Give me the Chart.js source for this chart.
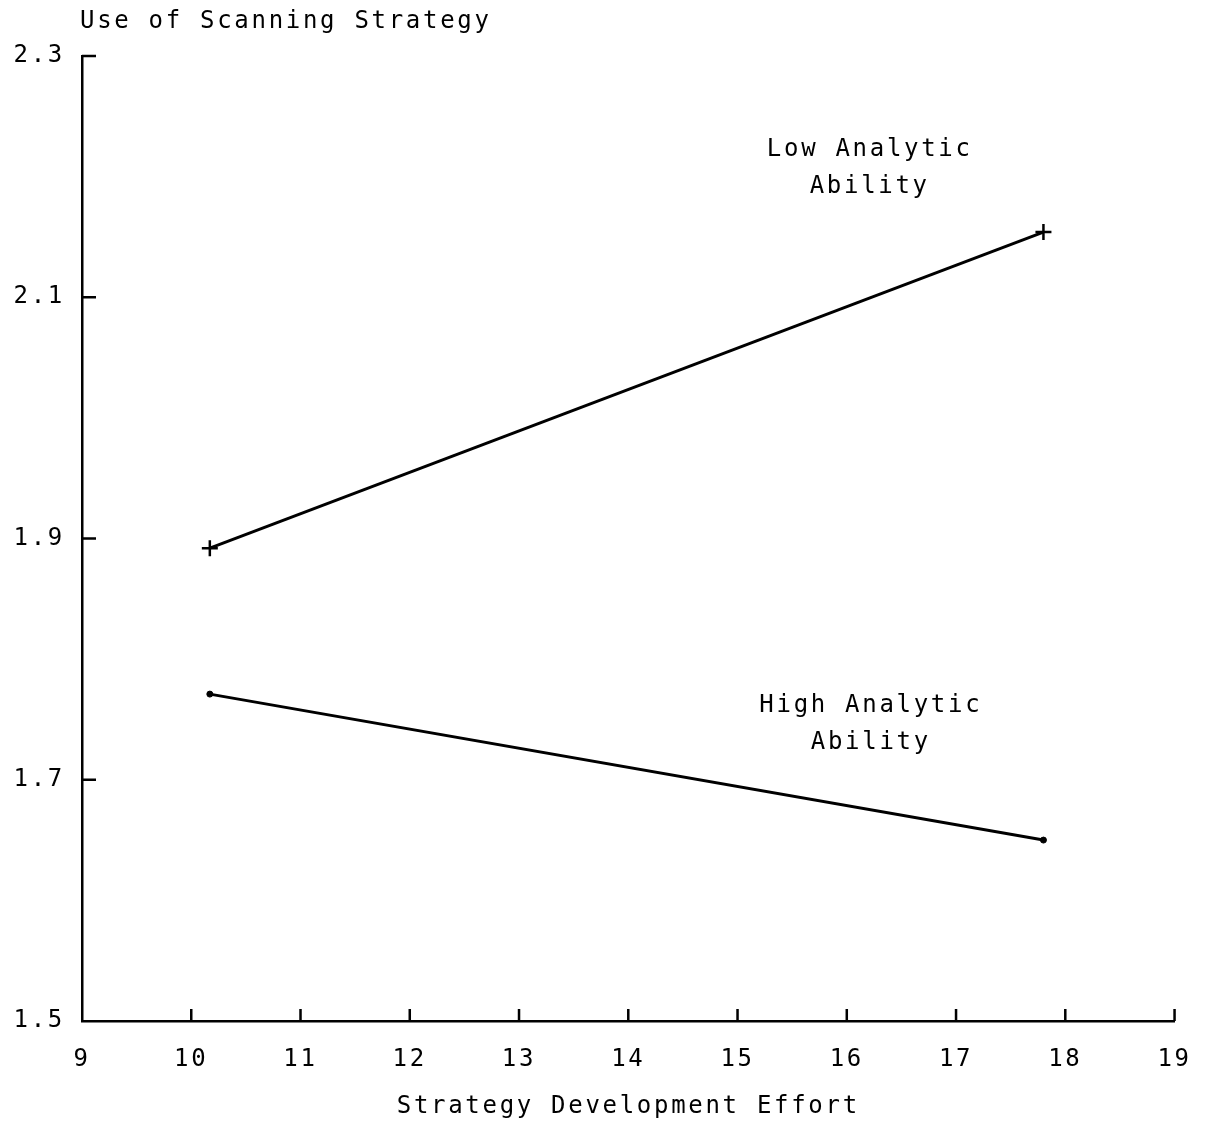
<!DOCTYPE html>
<html>
<head>
<meta charset="utf-8">
<title>Use of Scanning Strategy</title>
<script src="https://cdn.jsdelivr.net/npm/chart.js@4/dist/chart.umd.min.js"></script>
<style>
  body { margin: 0; background: #fff; }
  #wrap { width: 1205px; height: 1123px; }
</style>
</head>
<body>
<div id="wrap"><canvas id="scanChart" width="1205" height="1123"></canvas></div>
<script>
// effort levels (low / high) and predicted scanning use per group
const effortLevels = [10.17, 17.8];
const lowAnalytic = [1.892, 2.154];
const highAnalytic = [1.771, 1.650];

const xTickValues = [9, 10, 11, 12, 13, 14, 15, 16, 17, 18, 19];
const yTickValues = [1.5, 1.7, 1.9, 2.1, 2.3];

// group labels, placed in data units
const groupLabels = [
    { lines: ['Low Analytic', 'Ability'], x: 16.21, y: [2.222, 2.192] },
    { lines: ['High Analytic', 'Ability'], x: 16.22, y: [1.761, 1.731] }
];

const FONT = '"DejaVu Sans Mono", monospace';
const INK = '#000';

const toPoints = (xs, ys) => xs.map((x, i) => ({ x: x, y: ys[i] }));

// inward tick marks, group labels and the y axis caption
const plotDecor = {
    id: 'plotDecor',
    beforeDraw(chart) {
        chart.ctx.letterSpacing = '2.7px';
    },
    afterDraw(chart) {
        const ctx = chart.ctx;
        const area = chart.chartArea;
        const xs = chart.scales.x;
        const ys = chart.scales.y;
        ctx.save();
        ctx.strokeStyle = INK;
        ctx.lineWidth = 2.5;
        ctx.beginPath();
        xs.ticks.forEach(t => {
            if (t.value === xs.min) return;
            const px = xs.getPixelForValue(t.value);
            ctx.moveTo(px, area.bottom);
            ctx.lineTo(px, area.bottom - 12);
        });
        ys.ticks.forEach(t => {
            if (t.value === ys.min) return;
            const py = ys.getPixelForValue(t.value);
            ctx.moveTo(area.left, py);
            ctx.lineTo(area.left + 14, py);
        });
        ctx.stroke();

        ctx.fillStyle = INK;
        ctx.font = '24px ' + FONT;
        ctx.letterSpacing = '2.7px';
        ctx.textAlign = 'center';
        ctx.textBaseline = 'middle';
        groupLabels.forEach(g => {
            g.lines.forEach((line, i) => {
                ctx.fillText(line, xs.getPixelForValue(g.x), ys.getPixelForValue(g.y[i]));
            });
        });

        ctx.textAlign = 'left';
        ctx.fillText('Use of Scanning Strategy', area.left - 2, 22);
        ctx.restore();
    }
};

new Chart(document.getElementById('scanChart'), {
    type: 'line',
    data: {
        datasets: [
            {
                label: 'Low Analytic Ability',
                data: toPoints(effortLevels, lowAnalytic),
                borderColor: INK,
                backgroundColor: INK,
                borderWidth: 3,
                pointStyle: 'cross',
                pointRadius: 8,
                pointBorderWidth: 2.5
            },
            {
                label: 'High Analytic Ability',
                data: toPoints(effortLevels, highAnalytic),
                borderColor: INK,
                backgroundColor: INK,
                borderWidth: 3,
                pointStyle: 'circle',
                pointRadius: 3,
                pointBorderWidth: 1
            }
        ]
    },
    options: {
        responsive: false,
        animation: false,
        layout: { padding: { left: 0, right: 21, top: 56, bottom: 0 } },
        plugins: {
            legend: { display: false },
            tooltip: { enabled: false }
        },
        scales: {
            x: {
                type: 'linear',
                min: xTickValues[0],
                max: xTickValues[xTickValues.length - 1],
                afterBuildTicks: s => { s.ticks = xTickValues.map(v => ({ value: v })); },
                afterFit: s => { s.height = 102; },
                grid: { display: false },
                border: { display: true, color: INK, width: 2.5 },
                ticks: {
                    color: INK,
                    padding: 16,
                    maxRotation: 0,
                    font: { family: FONT, size: 24 },
                    callback: v => String(v)
                },
                title: {
                    display: true,
                    text: 'Strategy Development Effort',
                    color: INK,
                    font: { family: FONT, size: 24 },
                    padding: { top: 0, bottom: 2 }
                }
            },
            y: {
                type: 'linear',
                min: yTickValues[0],
                max: yTickValues[yTickValues.length - 1],
                afterBuildTicks: s => { s.ticks = yTickValues.map(v => ({ value: v })); },
                afterFit: s => { s.width = 82; },
                grid: { display: false },
                border: { display: true, color: INK, width: 2.5 },
                ticks: {
                    color: INK,
                    padding: 9,
                    font: { family: FONT, size: 24 },
                    callback: v => Number(v).toFixed(1)
                }
            }
        }
    },
    plugins: [plotDecor]
});
</script>
</body>
</html>
